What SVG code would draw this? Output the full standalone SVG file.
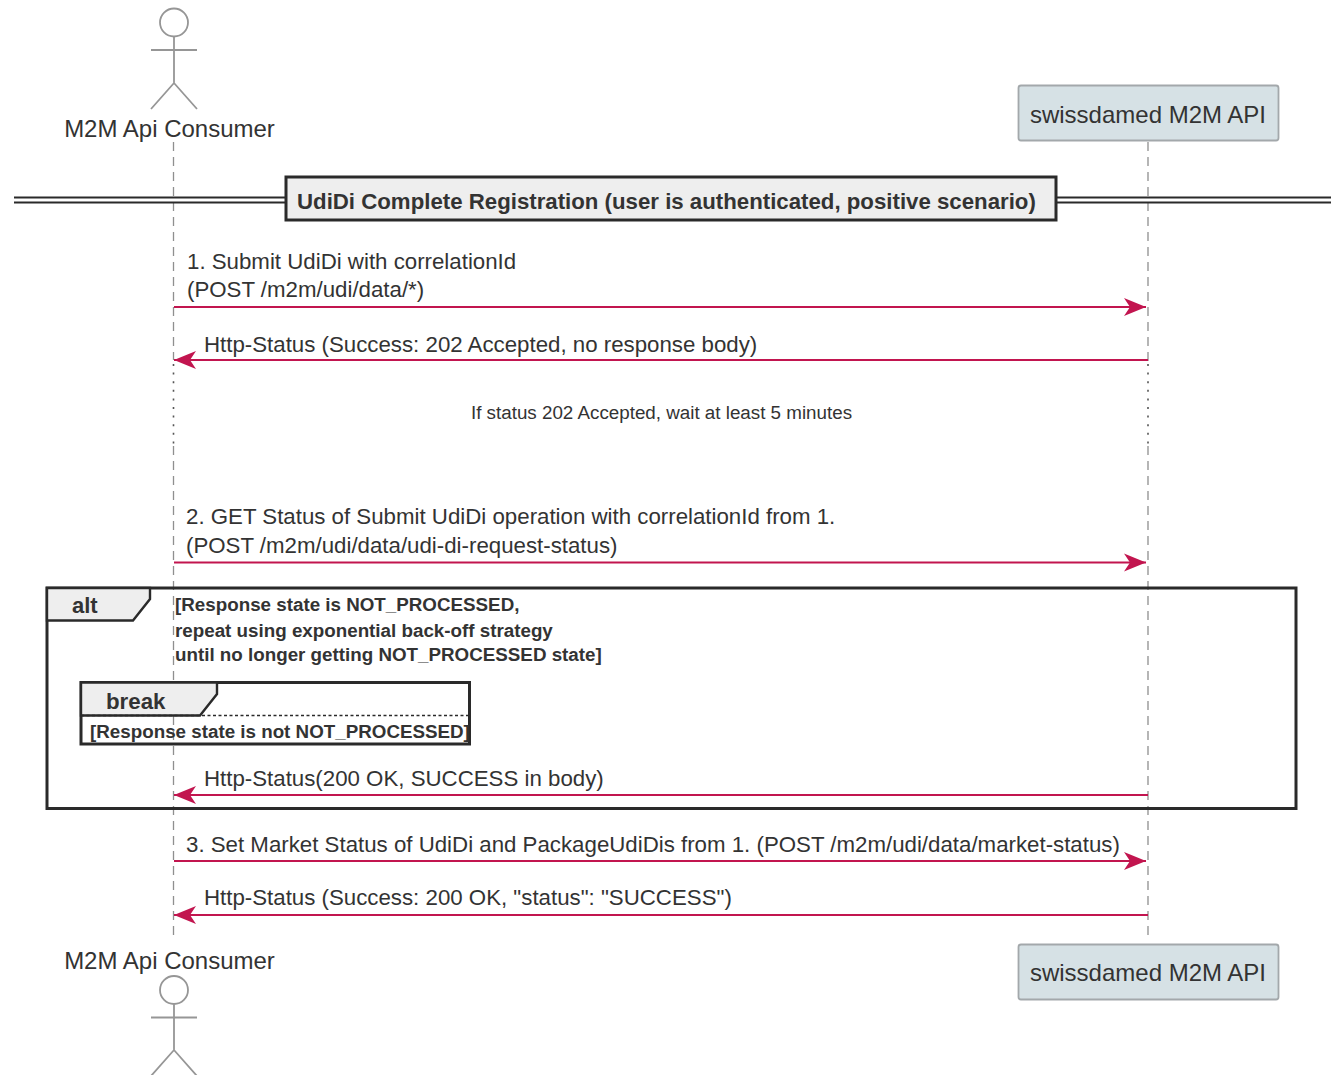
<svg xmlns="http://www.w3.org/2000/svg" width="1335" height="1075" viewBox="0 0 1335 1075">
<style>
text{font-family:"Liberation Sans",Arial,sans-serif;fill:#333333}
.p{font-size:24px}
.m{font-size:22.27px}
.b{font-weight:bold}
.g{font-size:18.8px;font-weight:bold}
.life{stroke:#8f8f8f;stroke-width:1.3;stroke-dasharray:9 6;fill:none}
.dots{stroke:#555;stroke-width:1.6;stroke-dasharray:2 6.6;fill:none}
.msg{stroke:#c2154f;stroke-width:2;fill:none}
.actor{stroke:#969696;stroke-width:1.8;fill:none}
.box{fill:#d6e1e5;stroke:#a3a8ab;stroke-width:1.8}
.frame{fill:none;stroke:#2a2a2a;stroke-width:3}
.tab{fill:#eeeeee;stroke:#2a2a2a;stroke-width:2.4}
.dbl{stroke:#2a2a2a;stroke-width:2;fill:none}
</style>
<defs>
<marker id="arr" markerUnits="userSpaceOnUse" markerWidth="24" markerHeight="20" refX="22" refY="10" orient="auto-start-reverse"><path d="M0 1 L22 10 L0 19 L6 10 Z" fill="#c2154f"/></marker>
</defs>
<g id="lifelines">
<path class="life" d="M173.500 142V360"/><path class="dots" d="M173.500 364V444"/><path class="life" d="M173.500 446V938"/>
<path class="life" d="M1148 142V362"/><path class="dots" d="M1148 364V444"/><path class="life" d="M1148 446V938"/>
</g>
<g id="divider">
<path class="dbl" d="M14 197.500H286M14 202.500H286M1056 197.500H1331M1056 202.500H1331"/>
<rect x="286" y="177" width="770" height="43" fill="#eeeeee" stroke="#2a2a2a" stroke-width="3"/>
<text class="b" x="297" y="208.500" style="font-size:22.24px">UdiDi Complete Registration (user is authenticated, positive scenario)</text>
</g>
<g id="actor-top">
<circle class="actor" cx="174" cy="22.500" r="14"/>
<path class="actor" d="M174 37V83M151 50H197M151 109L174 83L197 109"/>
<text class="p" x="169.500" y="136.500" text-anchor="middle">M2M Api Consumer</text>
</g>
<g id="api-top">
<rect class="box" x="1018.500" y="85.500" width="260" height="55" rx="2.500"/>
<text class="p" x="1148" y="123" text-anchor="middle">swissdamed M2M API</text>
</g>
<g id="frame-alt">
<rect class="frame" x="47" y="588" width="1249" height="220.500"/>
<path class="tab" d="M47 588H150V599L133 620.500H47Z"/>
<text class="b" x="72" y="612.500" style="font-size:22px">alt</text>
<text class="g" x="175" y="611">[Response state is NOT_PROCESSED,</text>
<text class="g" x="175" y="636.500">repeat using exponential back-off strategy</text>
<text class="g" x="175" y="660.500">until no longer getting NOT_PROCESSED state]</text>
</g>
<g id="frame-break">
<rect class="frame" x="81" y="682.500" width="388.500" height="61.500"/>
<path class="tab" d="M81 682.500H217V694L200 715.500H81Z"/>
<path d="M81 715.500H469" stroke="#2a2a2a" stroke-width="1.600" stroke-dasharray="3 2.500" fill="none"/>
<text class="b" x="106" y="708.500" style="font-size:22.300px">break</text>
<text class="g" x="90" y="738">[Response state is not NOT_PROCESSED]</text>
</g>
<g id="connectors">
<path class="msg" marker-end="url(#arr)" d="M174 307H1146"/>
<path class="msg" marker-start="url(#arr)" d="M174 360H1148"/>
<path class="msg" marker-end="url(#arr)" d="M174 562.500H1146"/>
<path class="msg" marker-start="url(#arr)" d="M174 795H1148"/>
<path class="msg" marker-end="url(#arr)" d="M174 861H1146"/>
<path class="msg" marker-start="url(#arr)" d="M174 915H1148"/>
</g>
<g id="labels">
<text class="m" x="187" y="268.500">1. Submit UdiDi with correlationId</text>
<text class="m" x="187" y="297">(POST /m2m/udi/data/*)</text>
<text class="m" x="204" y="352">Http-Status (Success: 202 Accepted, no response body)</text>
<text x="661.500" y="419" text-anchor="middle" style="font-size:18.800px">If status 202 Accepted, wait at least 5 minutes</text>
<text class="m" x="186" y="523.500">2. GET Status of Submit UdiDi operation with correlationId from 1.</text>
<text class="m" x="186" y="552.500">(POST /m2m/udi/data/udi-di-request-status)</text>
<text class="m" x="204" y="785.500">Http-Status(200 OK, SUCCESS in body)</text>
<text class="m" x="186" y="852">3. Set Market Status of UdiDi and PackageUdiDis from 1. (POST /m2m/udi/data/market-status)</text>
<text class="m" x="204" y="905">Http-Status (Success: 200 OK, "status": "SUCCESS")</text>
</g>
<g id="actor-bottom">
<text class="p" x="169.500" y="968.500" text-anchor="middle">M2M Api Consumer</text>
<circle class="actor" cx="174" cy="990" r="14"/>
<path class="actor" d="M174 1004.500V1050M151 1017.500H197M151 1076L174 1050L197 1076"/>
</g>
<g id="api-bottom">
<rect class="box" x="1018.500" y="944.500" width="260" height="55" rx="2.500"/>
<text class="p" x="1148" y="981" text-anchor="middle">swissdamed M2M API</text>
</g>
</svg>
